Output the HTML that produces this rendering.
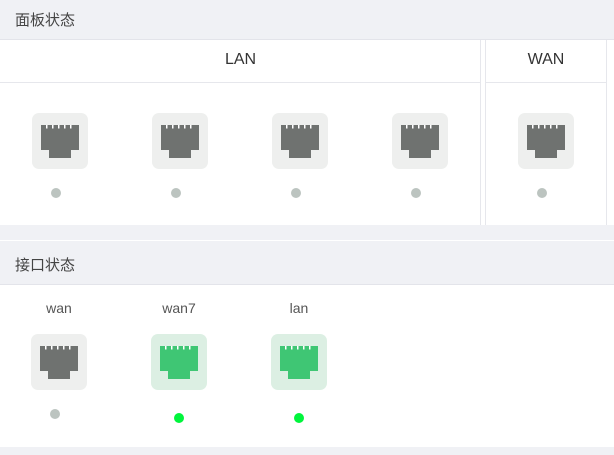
<!DOCTYPE html>
<html><head><style>
body{margin:0;width:614px;height:455px;background:#f0f1f5;position:relative;overflow:hidden;font-family:"Liberation Sans","Noto Sans CJK SC",sans-serif;color:#333}
.a{position:absolute}
.box{position:absolute;width:56px;height:56px;border-radius:7px;background:#eeefee}
.box.g{background:#dcefe3}
.dot{position:absolute;width:10px;height:10px;border-radius:50%;background:#bcc4c0}
.dot.g{background:#00f53c}
</style></head><body>
<div class="a" style="left:15px;top:9px;font-size:15px;color:#444">面板状态</div>
<div class="a" style="left:0;top:39px;width:614px;height:1px;background:#e3e4ea"></div>
<div class="a" style="left:0;top:40px;width:614px;height:185px;background:#fff"></div>
<div class="a" style="left:0;top:82px;width:481px;height:1px;background:#e6e7ec"></div>
<div class="a" style="left:486px;top:82px;width:120px;height:1px;background:#e6e7ec"></div>
<div class="a" style="left:480px;top:40px;width:1px;height:185px;background:#e6e7ec"></div>
<div class="a" style="left:485px;top:40px;width:1px;height:185px;background:#e6e7ec"></div>
<div class="a" style="left:606px;top:40px;width:1px;height:185px;background:#e6e7ec"></div>
<div class="a" style="left:0;top:51px;width:481px;text-align:center;font-size:16px">LAN</div>
<div class="a" style="left:486px;top:51px;width:120px;text-align:center;font-size:16px">WAN</div>
<div class="a" style="left:0;top:240px;width:614px;height:1px;background:#fff"></div>
<div class="a" style="left:15px;top:254px;font-size:15px;color:#444">接口状态</div>
<div class="a" style="left:0;top:284px;width:614px;height:1px;background:#e3e4ea"></div>
<div class="a" style="left:0;top:285px;width:614px;height:162px;background:#fff"></div>
<div class="a" style="left:29px;top:300px;width:60px;text-align:center;font-size:14px;color:#555">wan</div>
<div class="a" style="left:149px;top:300px;width:60px;text-align:center;font-size:14px;color:#555">wan7</div>
<div class="a" style="left:269px;top:300px;width:60px;text-align:center;font-size:14px;color:#555">lan</div>
<svg width="0" height="0" style="position:absolute"><defs>
<symbol id="p" viewBox="0 0 56 56"><path d="M9 12h38v25h-8v8h-22v-8h-8z"/><g fill="#fff" class="t"><rect x="14" y="12" width="1.5" height="3.5"/><rect x="20" y="12" width="1.5" height="3.5"/><rect x="26" y="12" width="1.5" height="3.5"/><rect x="32" y="12" width="1.5" height="3.5"/><rect x="38" y="12" width="1.5" height="3.5"/></g></symbol>
</defs></svg>
<div class="box" style="left:32px;top:113px"><svg width="56" height="56" fill="#6f7270"><use href="#p"/></svg></div>
<div class="box" style="left:152px;top:113px"><svg width="56" height="56" fill="#6f7270"><use href="#p"/></svg></div>
<div class="box" style="left:272px;top:113px"><svg width="56" height="56" fill="#6f7270"><use href="#p"/></svg></div>
<div class="box" style="left:392px;top:113px"><svg width="56" height="56" fill="#6f7270"><use href="#p"/></svg></div>
<div class="box" style="left:518px;top:113px"><svg width="56" height="56" fill="#6f7270"><use href="#p"/></svg></div>
<div class="dot" style="left:51px;top:188px"></div>
<div class="dot" style="left:171px;top:188px"></div>
<div class="dot" style="left:291px;top:188px"></div>
<div class="dot" style="left:411px;top:188px"></div>
<div class="dot" style="left:537px;top:188px"></div>
<div class="box" style="left:31px;top:334px"><svg width="56" height="56" fill="#6f7270"><use href="#p"/></svg></div>
<div class="box g" style="left:151px;top:334px"><svg width="56" height="56" fill="#3fc674"><use href="#p"/></svg></div>
<div class="box g" style="left:271px;top:334px"><svg width="56" height="56" fill="#3fc674"><use href="#p"/></svg></div>
<div class="dot" style="left:50px;top:409px"></div>
<div class="dot g" style="left:174px;top:413px"></div>
<div class="dot g" style="left:294px;top:413px"></div>
</body></html>
